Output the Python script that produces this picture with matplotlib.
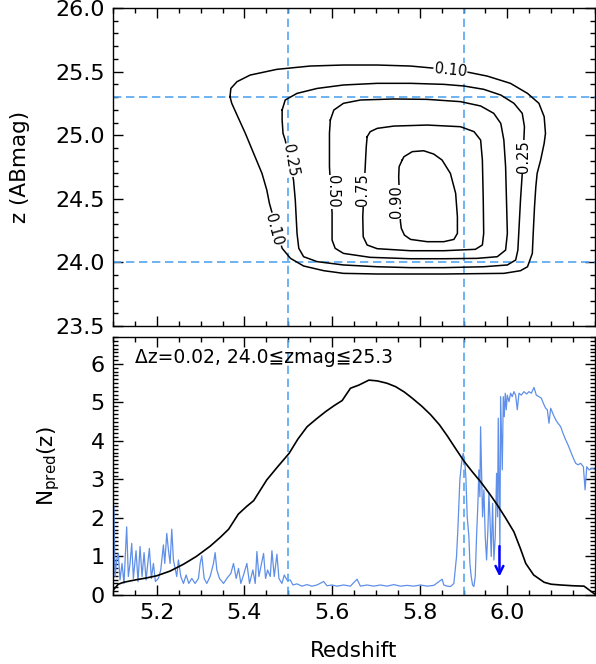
import matplotlib
matplotlib.use("Agg")
import matplotlib.pyplot as plt
from matplotlib.ticker import MultipleLocator, FixedLocator

plt.rcParams['font.family'] = ['DejaVu Sans', 'Noto Sans CJK JP']
plt.rcParams['mathtext.fontset'] = 'dejavusans'

# --- selection window ---
z_cuts = [5.5, 5.9]
mag_cuts = [24.0, 25.3]
z_ticks = [5.2, 5.4, 5.6, 5.8, 6.0]

# --- completeness contours (redshift, z mag) ---
c10_z = [5.367, 5.369, 5.383, 5.413, 5.474, 5.550, 5.626, 5.703, 5.779, 5.836, 5.905,
         5.954, 6.007, 6.046, 6.072, 6.084, 6.087, 6.084, 6.076, 6.068, 6.065, 6.062,
         6.059, 6.057, 6.046, 6.030, 5.992, 5.855, 5.703, 5.626, 5.581, 5.535, 5.505,
         5.486, 5.457, 5.451, 5.440, 5.421, 5.402, 5.383, 5.371, 5.367]
c10_m = [25.303, 25.368, 25.421, 25.473, 25.518, 25.544, 25.552, 25.552, 25.544, 25.526,
         25.499, 25.465, 25.408, 25.329, 25.251, 25.146, 25.015, 24.936, 24.805, 24.700,
         24.595, 24.438, 24.228, 24.071, 23.966, 23.935, 23.914, 23.909, 23.909, 23.914,
         23.935, 23.972, 24.032, 24.111, 24.464, 24.569, 24.700, 24.857, 25.015, 25.159,
         25.251, 25.303]
c25_z = [5.486, 5.493, 5.520, 5.566, 5.626, 5.703, 5.779, 5.855, 5.901, 5.946, 5.985,
         6.015, 6.034, 6.039, 6.038, 6.034, 6.030, 6.026, 6.024, 6.019, 6.000, 5.946,
         5.855, 5.779, 5.703, 5.626, 5.566, 5.535, 5.524, 5.520, 5.516, 5.512, 5.493,
         5.488, 5.486, 5.486]
c25_m = [25.198, 25.277, 25.329, 25.368, 25.395, 25.408, 25.408, 25.400, 25.387, 25.361,
         25.316, 25.251, 25.172, 25.067, 24.988, 24.700, 24.491, 24.228, 24.097, 24.019,
         23.980, 23.966, 23.959, 23.959, 23.966, 23.980, 24.006, 24.045, 24.111, 24.228,
         24.491, 24.648, 24.962, 25.015, 25.120, 25.198]
c50_z = [5.596, 5.604, 5.626, 5.665, 5.741, 5.817, 5.893, 5.939, 5.969, 5.985, 5.992,
         5.996, 5.998, 6.000, 5.996, 5.977, 5.931, 5.855, 5.779, 5.687, 5.626, 5.607,
         5.600, 5.600, 5.594, 5.594, 5.596]
c50_m = [25.120, 25.198, 25.251, 25.277, 25.285, 25.282, 25.264, 25.230, 25.172, 25.093,
         24.962, 24.753, 24.491, 24.228, 24.097, 24.045, 24.032, 24.029, 24.029, 24.040,
         24.071, 24.111, 24.176, 24.386, 24.753, 25.015, 25.120]
c75_z = [5.680, 5.687, 5.703, 5.741, 5.817, 5.893, 5.924, 5.939, 5.943, 5.945, 5.946,
         5.943, 5.927, 5.855, 5.779, 5.703, 5.680, 5.671, 5.670, 5.676, 5.678, 5.680]
c75_m = [24.988, 25.028, 25.054, 25.072, 25.080, 25.067, 25.028, 24.962, 24.805, 24.491,
         24.228, 24.137, 24.103, 24.092, 24.092, 24.108, 24.137, 24.202, 24.360, 24.779,
         24.910, 24.988]
c90_z = [5.760, 5.764, 5.783, 5.809, 5.832, 5.851, 5.870, 5.882, 5.886, 5.886, 5.878,
         5.855, 5.817, 5.779, 5.765, 5.758, 5.756, 5.752, 5.753, 5.760]
c90_m = [24.805, 24.831, 24.871, 24.878, 24.852, 24.805, 24.700, 24.543, 24.360, 24.228,
         24.181, 24.163, 24.163, 24.181, 24.215, 24.268, 24.320, 24.674, 24.753, 24.805]

# contour label placement (z, mag, angle)
lab_text = ['0.10', '0.10', '0.25', '0.25', '0.50', '0.75', '0.90']
lab_z = [5.870, 5.466, 5.505, 6.036, 5.600, 5.670, 5.748]
lab_m = [25.513, 24.255, 24.805, 24.831, 24.556, 24.569, 24.477]
lab_rot = [-6, -75, -80, 90, -90, 90, 90]

# --- predicted N(z) ---
npred_z = [5.100, 5.112, 5.124, 5.150, 5.175, 5.200, 5.230, 5.261, 5.290, 5.322, 5.345,
           5.364, 5.386, 5.405, 5.421, 5.451, 5.475, 5.502, 5.522, 5.543, 5.565, 5.585,
           5.605, 5.623, 5.642, 5.661, 5.684, 5.703, 5.725, 5.745, 5.765, 5.783, 5.805,
           5.825, 5.845, 5.863, 5.882, 5.902, 5.920, 5.939, 5.958, 5.977, 5.996, 6.015,
           6.030, 6.042, 6.060, 6.084, 6.100, 6.122, 6.150, 6.175, 6.200]
npred = [0.12, 0.28, 0.33, 0.39, 0.44, 0.50, 0.62, 0.80, 1.00, 1.27, 1.50,
         1.71, 2.10, 2.30, 2.45, 2.99, 3.32, 3.68, 4.05, 4.37, 4.58, 4.76,
         4.92, 5.05, 5.37, 5.45, 5.58, 5.56, 5.50, 5.41, 5.27, 5.11, 4.90,
         4.68, 4.42, 4.13, 3.80, 3.46, 3.20, 2.94, 2.65, 2.34, 2.00, 1.64,
         1.20, 0.82, 0.52, 0.33, 0.28, 0.26, 0.24, 0.23, 0.02]

# --- sky / transmission curve (blue) ---
sky_z = [5.1008, 5.1023, 5.1046, 5.1084, 5.1122, 5.116, 5.1206, 5.1251, 5.1312, 5.135,
         5.1389, 5.1427, 5.1465, 5.1526, 5.1571, 5.1617, 5.1663, 5.1709, 5.1754, 5.183,
         5.1876, 5.1922, 5.1968, 5.2036, 5.209, 5.215, 5.2181, 5.2227, 5.2265, 5.2303,
         5.2341, 5.2379, 5.2455, 5.2493, 5.2547, 5.2608, 5.2669, 5.273, 5.2798, 5.2874,
         5.295, 5.2989, 5.3027, 5.308, 5.3141, 5.3217, 5.3293, 5.3331, 5.337, 5.343,
         5.3522, 5.3598, 5.369, 5.375, 5.3811, 5.3865, 5.3918, 5.3979, 5.4055, 5.4116,
         5.4192, 5.4246, 5.4284, 5.433, 5.4375, 5.4436, 5.4482, 5.4528, 5.4589, 5.4627,
         5.468, 5.4741, 5.4787, 5.4855, 5.4909, 5.497, 5.5046, 5.5107, 5.5198, 5.5312,
         5.5427, 5.5541, 5.5655, 5.5808, 5.5884, 5.5998, 5.6112, 5.6265, 5.6417, 5.657,
         5.6646, 5.6798, 5.695, 5.7103, 5.7255, 5.7408, 5.756, 5.7712, 5.7865, 5.8017,
         5.817, 5.8322, 5.8512, 5.855, 5.8627, 5.8703, 5.8779, 5.884, 5.887, 5.8916,
         5.8954, 5.8992, 5.9023, 5.9053, 5.9084, 5.9122, 5.9145, 5.9175, 5.9206, 5.9236,
         5.9267, 5.9297, 5.9328, 5.935, 5.9373, 5.9389, 5.9411, 5.9434, 5.9465, 5.9495,
         5.9526, 5.9556, 5.9579, 5.9602, 5.9632, 5.9663, 5.9693, 5.9724, 5.9754, 5.9777,
         5.9792, 5.9815, 5.983, 5.9846, 5.9869, 5.9884, 5.9907, 5.993, 5.9952, 5.9975,
         5.9998, 6.0037, 6.0074, 6.0112, 6.015, 6.0189, 6.0227, 6.0265, 6.0318, 6.0379,
         6.044, 6.0493, 6.0547, 6.0608, 6.0661, 6.0722, 6.0775, 6.0836, 6.0874, 6.0912,
         6.095, 6.0989, 6.105, 6.1103, 6.1156, 6.1217, 6.127, 6.1331, 6.1384, 6.1446,
         6.1507, 6.156, 6.1613, 6.1674, 6.1735, 6.1774, 6.1812, 6.1865, 6.1941, 6.2017]
sky = [0.30, 2.29, 0.48, 0.91, 1.08, 0.39, 0.82, 0.30, 1.77, 0.48,
       0.82, 1.34, 0.43, 1.15, 0.35, 1.26, 0.48, 1.10, 0.39, 1.21,
       0.43, 0.82, 0.35, 0.43, 0.65, 1.30, 0.82, 1.60, 1.17, 0.82,
       1.71, 0.91, 0.48, 0.91, 0.48, 0.30, 0.52, 0.30, 0.43, 0.30,
       0.43, 0.82, 1.02, 0.43, 0.30, 0.48, 0.82, 1.10, 0.65, 0.43,
       0.30, 0.43, 0.56, 0.82, 0.43, 0.69, 0.30, 0.52, 0.82, 0.30,
       0.65, 0.30, 1.13, 0.48, 0.74, 1.08, 0.43, 0.65, 0.48, 1.15,
       0.48, 1.06, 0.43, 0.30, 0.52, 0.39, 0.39, 0.26, 0.29, 0.23,
       0.27, 0.23, 0.26, 0.35, 0.24, 0.26, 0.23, 0.26, 0.23, 0.41,
       0.23, 0.26, 0.23, 0.26, 0.23, 0.27, 0.23, 0.25, 0.23, 0.26,
       0.23, 0.25, 0.41, 0.26, 0.23, 0.22, 0.30, 1.00, 1.69, 2.99,
       3.42, 3.68, 3.51, 3.07, 2.03, 1.52, 0.82, 0.48, 0.26, 0.22,
       0.48, 1.52, 2.38, 3.25, 2.55, 4.37, 3.16, 2.03, 2.73, 1.52,
       0.91, 1.69, 2.64, 2.03, 1.00, 2.38, 0.91, 1.52, 3.16, 2.03,
       4.59, 2.38, 1.17, 5.15, 4.03, 3.25, 5.15, 4.63, 5.24, 4.81,
       5.19, 5.02, 5.24, 5.15, 5.28, 5.19, 4.81, 5.24, 5.19, 5.28,
       5.22, 5.28, 5.24, 5.39, 5.19, 5.15, 5.11, 4.94, 4.85, 4.81,
       4.46, 4.85, 4.68, 4.55, 4.46, 4.37, 4.20, 4.03, 3.90, 3.72,
       3.55, 3.42, 3.38, 3.42, 3.33, 2.73, 3.33, 3.25, 3.29, 3.25]

# upper-limit arrow
arrow_z = 5.982
arrow_top, arrow_bottom = 1.27, 0.48

cut_color = '#55a5f0'
sky_color = '#5f8fe8'
dash = (0, (5, 2.8))

fig = plt.figure(figsize=(5.96, 6.64), dpi=100)
ax1 = fig.add_axes([0.1896, 0.5090, 0.8087, 0.4789])
ax2 = fig.add_axes([0.1896, 0.1039, 0.8087, 0.3886])

# --- top panel: completeness contours ---
for cz, cm in [(c10_z, c10_m), (c25_z, c25_m), (c50_z, c50_m),
               (c75_z, c75_m), (c90_z, c90_m)]:
    ax1.plot(cz, cm, color='black', lw=1.1, solid_joinstyle='round', zorder=3)
for t, x, y, r in zip(lab_text, lab_z, lab_m, lab_rot):
    ax1.text(x, y, t, rotation=r, fontsize=10.5, ha='center', va='center',
             rotation_mode='anchor', zorder=4,
             bbox=dict(facecolor='white', edgecolor='none', pad=0.5))
for zc in z_cuts:
    ax1.axvline(zc, color=cut_color, lw=1.2, ls=dash, zorder=2)
for mc in mag_cuts:
    ax1.axhline(mc, color=cut_color, lw=1.2, ls=dash, zorder=2)
ax1.set_xlim(5.1, 6.2)
ax1.set_ylim(23.5, 26.0)
ax1.set_ylabel('z (ABmag)', fontsize=15.5)
ax1.yaxis.set_label_coords(-0.172, 0.5)
ax1.yaxis.set_major_locator(MultipleLocator(0.5))
ax1.yaxis.set_minor_locator(MultipleLocator(0.1))
ax1.tick_params(labelbottom=False)

# --- bottom panel: predicted counts ---
ax2.plot(sky_z, sky, color=sky_color, lw=0.9, zorder=2)
ax2.plot(npred_z, npred, color='black', lw=1.2, zorder=3)
for zc in z_cuts:
    ax2.axvline(zc, color=cut_color, lw=1.2, ls=dash, zorder=2.5)
ax2.annotate('', xy=(arrow_z, arrow_bottom), xytext=(arrow_z, arrow_top),
             arrowprops=dict(arrowstyle='->', color='blue', lw=1.8,
                             mutation_scale=14, shrinkA=0, shrinkB=0), zorder=5)
ax2.text(0.046, 0.92, '\u0394z=0.02, 24.0\u2266zmag\u226625.3', transform=ax2.transAxes,
         fontsize=13.5, ha='left', va='center')
ax2.set_xlim(5.1, 6.2)
ax2.set_ylim(0, 6.7)
ax2.set_xlabel('Redshift', fontsize=15.5)
ax2.set_ylabel(r'N$_{\rm pred}$(z)', fontsize=15.5)
ax2.yaxis.set_label_coords(-0.105, 0.5)
ax2.xaxis.set_label_coords(0.5, -0.18)
ax2.yaxis.set_major_locator(MultipleLocator(1))
ax2.yaxis.set_minor_locator(MultipleLocator(0.1))

for ax in (ax1, ax2):
    ax.xaxis.set_major_locator(FixedLocator(z_ticks))
    ax.xaxis.set_minor_locator(MultipleLocator(0.05))
    ax.tick_params(which='both', direction='in', top=True, right=True,
                   labelsize=16, width=1.0)
    ax.tick_params(which='major', length=7, pad=6)
    ax.tick_params(which='minor', length=3.5)
    for s in ax.spines.values():
        s.set_linewidth(1.0)

fig.savefig('out.png', dpi=100)
